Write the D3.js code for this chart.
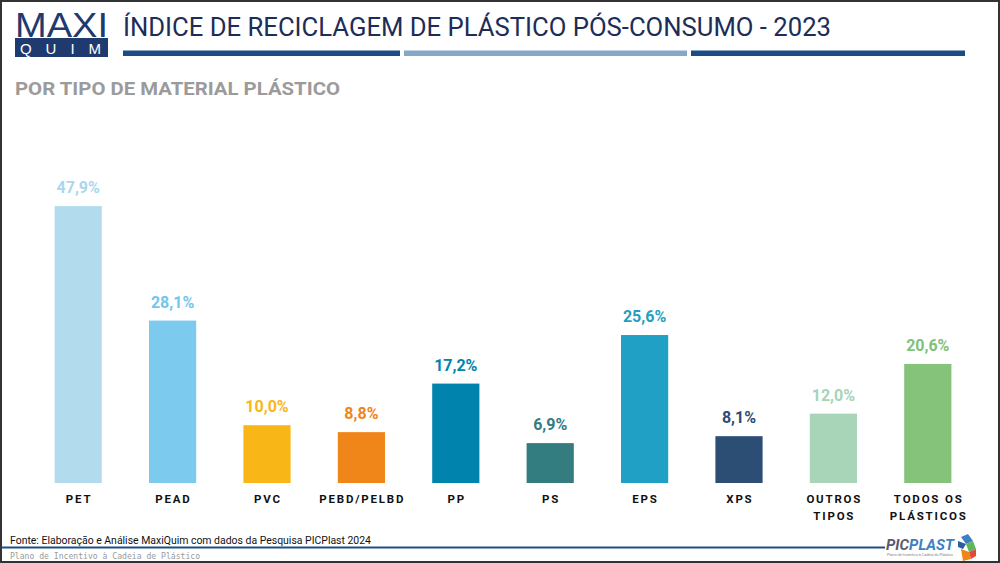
<!DOCTYPE html>
<html>
<head>
<meta charset="utf-8">
<script src="https://cdn.jsdelivr.net/npm/d3@7"></script>
<style>
  html, body { margin: 0; padding: 0; background: #fff; }
  svg { display: block; }
</style>
</head>
<body>
<svg id="chart" width="1000" height="563"></svg>
<script>
// ---- DATA ----
const categories = ["PET", "PEAD", "PVC", "PEBD/PELBD", "PP", "PS", "EPS", "XPS", "OUTROS TIPOS", "TODOS OS PLÁSTICOS"];
const categoryLines = [["PET"], ["PEAD"], ["PVC"], ["PEBD/PELBD"], ["PP"], ["PS"], ["EPS"], ["XPS"], ["OUTROS", "TIPOS"], ["TODOS OS", "PLÁSTICOS"]];
const values = [47.9, 28.1, 10.0, 8.8, 17.2, 6.9, 25.6, 8.1, 12.0, 20.6];
const valueLabels = ["47,9%", "28,1%", "10,0%", "8,8%", "17,2%", "6,9%", "25,6%", "8,1%", "12,0%", "20,6%"];
const barColors = ["#b2dbee", "#7ccbef", "#f9b617", "#f08519", "#0084ad", "#337c80", "#20a0c4", "#2c4d74", "#a8d5b8", "#85c37a"];
const labelColors = ["#a9d7ee", "#72c6ee", "#f9b617", "#f08519", "#0083ac", "#337c80", "#1f9fc3", "#2c4d74", "#a5d4b6", "#80c176"];
const title = "ÍNDICE DE RECICLAGEM DE PLÁSTICO PÓS-CONSUMO - 2023";
const subtitle = "POR TIPO DE MATERIAL PLÁSTICO";
const source = "Fonte: Elaboração e Análise MaxiQuim com dados da Pesquisa PICPlast 2024";
const footerNote = "Plano de Incentivo à Cadeia de Plástico";

// ---- CHART ----
const svg = d3.select("#chart");
const W = 1000, H = 563;

// border
svg.append("rect").attr("x", 1).attr("y", 1).attr("width", W - 2).attr("height", H - 2)
  .attr("fill", "#fff").attr("stroke", "#333").attr("stroke-width", 2);

// logo MAXI QUIM
svg.append("text").attr("x", 15).attr("y", 37).text("MAXI")
  .attr("font-family", "'Liberation Sans', Arial, sans-serif").attr("font-weight", 400)
  .attr("font-size", 35).attr("fill", "#1e3a6e")
  .attr("textLength", 93).attr("lengthAdjust", "spacingAndGlyphs");
svg.append("rect").attr("x", 15).attr("y", 38).attr("width", 93).attr("height", 19).attr("fill", "#1e3a6e");
svg.append("text").attr("x", 20).attr("y", 54).text("QUIM")
  .attr("font-family", "'Liberation Sans', Arial, sans-serif").attr("font-weight", 400)
  .attr("font-size", 15).attr("fill", "#fff")
  .attr("textLength", 81).attr("lengthAdjust", "spacing");

// title
svg.append("text").attr("x", 123).attr("y", 36).text(title)
  .attr("font-family", "Roboto, sans-serif").attr("font-weight", 400)
  .attr("font-size", 25).attr("fill", "#1c2d57")
  .attr("textLength", 708).attr("lengthAdjust", "spacingAndGlyphs");

// header lines
const headerSegs = [[123, 400, "#1a4d86"], [404, 687, "#86a8c8"], [691, 965, "#1a4d86"]];
svg.selectAll("rect.hseg").data(headerSegs).enter().append("rect").attr("class", "hseg")
  .attr("x", d => d[0]).attr("y", 50.5).attr("width", d => d[1] - d[0]).attr("height", 5.5)
  .attr("fill", d => d[2]);

// subtitle
svg.append("text").attr("x", 15).attr("y", 95).text(subtitle)
  .attr("font-family", "Roboto, sans-serif").attr("font-weight", 700)
  .attr("font-size", 19).attr("fill", "#9b9b9b")
  .attr("textLength", 325).attr("lengthAdjust", "spacingAndGlyphs");

// scales
const x = d3.scaleBand().domain(categories).range([31, 975]).paddingInner(0.5).paddingOuter(0.25);
const y = d3.scaleLinear().domain([0, 50]).range([483, 194]);

const g = svg.append("g");
g.selectAll("rect.bar").data(categories).enter().append("rect").attr("class", "bar")
  .attr("x", d => x(d)).attr("width", x.bandwidth())
  .attr("y", (d, i) => y(values[i])).attr("height", (d, i) => y(0) - y(values[i]))
  .attr("fill", (d, i) => barColors[i]);

g.selectAll("text.val").data(categories).enter().append("text").attr("class", "val")
  .attr("x", d => x(d) + x.bandwidth() / 2)
  .attr("y", (d, i) => y(values[i]) - 13)
  .attr("text-anchor", "middle")
  .attr("font-family", "Roboto, sans-serif").attr("font-weight", 700).attr("font-size", 16)
  .attr("fill", (d, i) => labelColors[i])
  .text((d, i) => valueLabels[i]);

// category axis labels
const cat = g.selectAll("text.cat").data(categories).enter().append("text").attr("class", "cat")
  .attr("x", d => x(d) + x.bandwidth() / 2).attr("y", 503)
  .attr("text-anchor", "middle")
  .attr("font-family", "Roboto, sans-serif").attr("font-weight", 700).attr("font-size", 11.5)
  .attr("letter-spacing", 1.8).attr("fill", "#111");
cat.each(function (d, i) {
  const t = d3.select(this);
  categoryLines[i].forEach((line, k) => {
    t.append("tspan").attr("x", x(d) + x.bandwidth() / 2 + 0.9).attr("y", 503 + k * 16.5).text(line);
  });
});

// footer
svg.append("text").attr("x", 10).attr("y", 544).text(source)
  .attr("font-family", "Roboto, sans-serif").attr("font-size", 11).attr("fill", "#111")
  .attr("textLength", 361).attr("lengthAdjust", "spacingAndGlyphs");
svg.append("rect").attr("x", 1).attr("y", 546.5).attr("width", 884).attr("height", 2).attr("fill", "#1f4f85");
svg.append("text").attr("x", 10).attr("y", 559).text(footerNote)
  .attr("font-family", "'DejaVu Sans Mono', monospace").attr("font-size", 8.1).attr("fill", "#9a9a9a");

// PICPLAST logo
const pl = svg.append("text").attr("x", 886).attr("y", 550)
  .attr("font-family", "Roboto, sans-serif").attr("font-weight", 700).attr("font-style", "italic")
  .attr("font-size", 15).attr("textLength", 68).attr("lengthAdjust", "spacingAndGlyphs");
pl.append("tspan").attr("fill", "#5a5a6a").text("PIC");
pl.append("tspan").attr("fill", "#3e7fc4").text("PLAST");
svg.append("text").attr("x", 887).attr("y", 556).text("Plano de Incentivo à Cadeia do Plástico")
  .attr("font-family", "Roboto, sans-serif").attr("font-size", 3).attr("fill", "#888")
  .attr("textLength", 66).attr("lengthAdjust", "spacingAndGlyphs");
const icon = [
  ["961,537 968,534 973,541 966,544", "#3e7fc4"],
  ["966,544 973,541 976,549 969,552", "#5cb85c"],
  ["961,549 969,552 971,559 963,561", "#f08519"],
  ["969,552 976,549 976,556 971,559", "#e04b3a"],
  ["958,541 966,544 963,549 958,547", "#2c5fa0"]
];
svg.selectAll("polygon.ic").data(icon).enter().append("polygon")
  .attr("points", d => d[0]).attr("fill", d => d[1]);
</script>
</body>
</html>
